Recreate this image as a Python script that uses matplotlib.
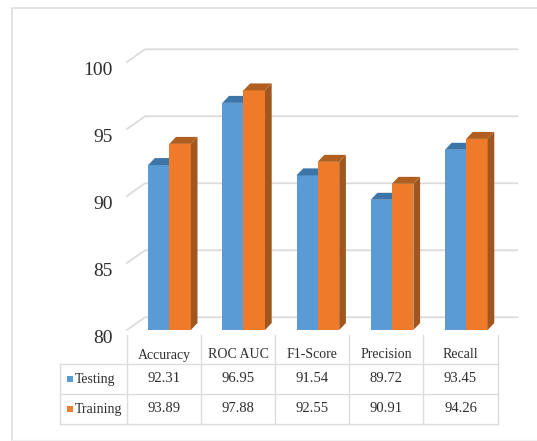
import matplotlib
matplotlib.use("Agg")
import matplotlib.pyplot as plt
from matplotlib.patches import Polygon

categories = ["Accuracy", "ROC AUC", "F1-Score", "Precision", "Recall"]
testing = [92.31, 96.95, 91.54, 89.72, 93.45]
training = [93.89, 97.88, 92.55, 90.91, 94.26]
series_names = ["Testing", "Training"]
y_ticks = [80, 85, 90, 95, 100]

W, H = 537, 441
plt.rcParams['font.family'] = ['Liberation Serif', 'DejaVu Serif']
TEXT = '#2e2e2e'
GRID = '#dcdcdc'

fig = plt.figure(figsize=(W / 100, H / 100), dpi=100, facecolor='white')

# Overlay in pixel units for the outer frame and the data table
page = fig.add_axes([0, 0, 1, 1], zorder=0)
page.set_xlim(0, W)
page.set_ylim(H, 0)
page.axis('off')

# Plot area: 5 categories between x=127..498, value 80..100 between y=330..62
ax = fig.add_axes([127 / W, 1 - 330 / H, 371 / W, 268 / H], zorder=1)
ax.set_xlim(-0.5, 4.5)
ax.set_ylim(80, 100)
ax.axis('off')
ax.patch.set_alpha(0)

# Fake 3D offsets in data units
bar_w = 0.29
depth_x = 0.09
depth_y = 0.52
wall_x = 0.243
wall_y = 0.95
grid_end = 4.76


def draw_bars(pos, values, front, side, top, z):
    ax.bar(pos, [v - 80 for v in values], bar_w, bottom=80, color=front, zorder=z)
    for x, v in zip(pos, values):
        x0, x1 = x - bar_w / 2, x + bar_w / 2
        ax.add_patch(Polygon([(x1, 80), (x1 + depth_x, 80 + depth_y),
                              (x1 + depth_x, v + depth_y), (x1, v)],
                             closed=True, color=side, lw=0, zorder=z))
        ax.add_patch(Polygon([(x0, v), (x0 + depth_x, v + depth_y),
                              (x1 + depth_x, v + depth_y), (x1, v)],
                             closed=True, color=top, lw=0, zorder=z))


# Back wall gridlines with the diagonal running in from the axis
for t in y_ticks:
    ax.plot([-0.5, -0.5 + wall_x, grid_end], [t, t + wall_y, t + wall_y],
            color=GRID, lw=1.3, zorder=1, clip_on=False)
    ax.annotate(str(t), (-0.5, t), xytext=(-10.5, -6), textcoords='offset points',
                ha='right', va='center', fontsize=14, color=TEXT)

xs = list(range(len(categories)))
draw_bars([x - 0.07 for x in xs], testing, '#5B9BD5', '#3F6F9C', '#3E75A8', 3)
draw_bars([x + 0.215 for x in xs], training, '#EE7A2A', '#A0561F', '#B05F20', 4)

# Outer frame, open on the right
page.plot([12, 12, W], [440, 7.5, 7.5], color='#dedede', lw=1.2)
page.plot([12, W], [440, 440], color='#f0f0f0', lw=1.0)

# Data table under the plot
col_edges = [127, 201, 275, 349, 423, 498]
row_y = [364, 394, 424]
for y in row_y:
    page.plot([60, 498], [y, y], color=GRID, lw=1.0)
page.plot([60, 60], [364, 424], color=GRID, lw=1.0)
for x in col_edges:
    page.plot([x, x], [335, 424], color=GRID, lw=1.0)

for i, name in enumerate(categories):
    cx = (col_edges[i] + col_edges[i + 1]) / 2
    page.text(cx, 355, name, ha='center', va='center', fontsize=10, color=TEXT)
    page.text(cx, 379, f"{testing[i]:.2f}", ha='center', va='center', fontsize=10.5, color=TEXT)
    page.text(cx, 409, f"{training[i]:.2f}", ha='center', va='center', fontsize=10.5, color=TEXT)

for y, name, col in zip([379, 409], series_names, ['#5B9BD5', '#ED7D31']):
    page.plot([70], [y], marker='s', ms=4.2, color=col, mew=0)
    page.text(75, y, name, ha='left', va='center', fontsize=10, color=TEXT)

fig.savefig('out.png', dpi=100)
